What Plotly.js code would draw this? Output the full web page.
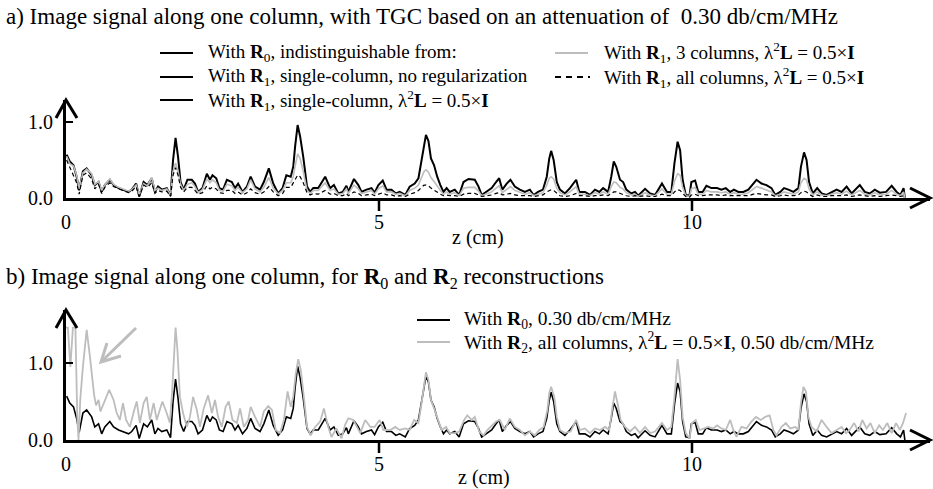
<!DOCTYPE html>
<html>
<head>
<meta charset="utf-8">
<script src="https://cdn.plot.ly/plotly-3.0.1.min.js"></script>
<style>html,body{margin:0;padding:0;background:#fff;}#chart{width:933px;height:489px;}</style>
</head>
<body>
<div id="chart"></div>
<script>
// ---------- data ----------
// depth positions (cm) shared by the panel-a series and the R0 curve
const zA = [
 0.01,0.06,0.12,0.17,0.21,0.27,0.33,0.41,0.46,0.52,
 0.57,0.62,0.70,0.76,0.84,0.92,1.00,1.05,1.12,1.17,
 1.24,1.30,1.37,1.42,1.47,1.53,1.61,1.67,1.71,1.75,
 1.79,1.83,1.88,1.94,2.01,2.06,2.11,2.18,2.25,2.30,
 2.34,2.40,2.45,2.51,2.57,2.65,2.70,2.75,2.82,2.89,
 2.95,3.02,3.10,3.16,3.24,3.31,3.39,3.46,3.52,3.59,
 3.63,3.66,3.70,3.74,3.79,3.85,3.90,3.95,4.03,4.14,
 4.22,4.28,4.35,4.42,4.48,4.51,4.60,4.67,4.72,4.80,
 4.88,4.93,4.99,5.06,5.12,5.20,5.27,5.33,5.42,5.49,
 5.57,5.63,5.68,5.72,5.75,5.79,5.83,5.88,5.93,5.98,
 6.03,6.08,6.13,6.21,6.28,6.35,6.43,6.53,6.59,6.64,
 6.72,6.80,6.87,6.92,6.97,7.04,7.10,7.17,7.25,7.33,
 7.41,7.47,7.54,7.62,7.68,7.72,7.75,7.79,7.84,7.89,
 7.97,8.05,8.15,8.20,8.29,8.37,8.45,8.52,8.58,8.66,
 8.71,8.75,8.79,8.85,8.90,8.95,9.03,9.09,9.14,9.25,
 9.33,9.41,9.52,9.60,9.67,9.72,9.77,9.81,9.85,9.90,
 9.96,9.99,10.05,10.10,10.17,10.23,10.31,10.40,10.47,10.54,
 10.61,10.67,10.74,10.82,10.90,10.98,11.03,11.11,11.19,11.27,
 11.33,11.41,11.47,11.54,11.62,11.70,11.74,11.79,11.83,11.87,
 11.93,12.00,12.07,12.15,12.23,12.31,12.39,12.47,12.55,12.68,
 12.76,12.84,12.92,13.00,13.10,13.19,13.27,13.33,13.38,13.40];

// R0 (identical to R1 single-column curves), 0.30 db/cm/MHz
const r0 = [
 0.57,0.48,0.43,0.28,0.10,0.35,0.39,0.30,0.17,0.21,
 0.08,0.17,0.24,0.17,0.13,0.11,0.08,0.11,0.19,0.02,
 0.21,0.17,0.26,0.08,0.15,0.11,0.13,0.03,0.50,0.79,
 0.54,0.21,0.11,0.24,0.24,0.19,0.08,0.13,0.32,0.24,
 0.30,0.26,0.13,0.11,0.24,0.21,0.13,0.19,0.08,0.15,
 0.28,0.15,0.11,0.21,0.39,0.19,0.06,0.13,0.30,0.28,
 0.41,0.68,0.96,0.81,0.54,0.15,0.08,0.13,0.13,0.28,
 0.13,0.17,0.06,0.08,0.16,0.08,0.25,0.17,0.08,0.11,
 0.13,0.07,0.17,0.23,0.11,0.11,0.06,0.08,0.04,0.15,
 0.19,0.26,0.50,0.72,0.83,0.75,0.52,0.43,0.28,0.17,
 0.08,0.13,0.08,0.11,0.04,0.21,0.25,0.24,0.15,0.04,
 0.08,0.13,0.21,0.26,0.11,0.19,0.24,0.15,0.11,0.08,
 0.11,0.04,0.08,0.11,0.28,0.52,0.62,0.50,0.21,0.11,
 0.06,0.13,0.24,0.08,0.08,0.04,0.11,0.08,0.13,0.08,
 0.28,0.48,0.41,0.24,0.21,0.11,0.06,0.08,0.03,0.12,
 0.06,0.04,0.19,0.08,0.08,0.46,0.74,0.63,0.24,0.04,
 0.03,0.21,0.23,0.08,0.08,0.16,0.13,0.13,0.11,0.13,
 0.08,0.11,0.08,0.08,0.11,0.19,0.24,0.19,0.17,0.13,
 0.04,0.08,0.13,0.11,0.08,0.13,0.41,0.60,0.50,0.21,
 0.06,0.13,0.06,0.04,0.08,0.11,0.08,0.15,0.06,0.17,
 0.08,0.06,0.11,0.07,0.08,0.16,0.08,0.04,0.13,0.00];

// R1, 3 columns
const r1Three = [
 0.55,0.45,0.42,0.30,0.12,0.33,0.38,0.32,0.18,0.22,
 0.10,0.17,0.25,0.18,0.14,0.12,0.09,0.11,0.17,0.05,
 0.19,0.16,0.27,0.10,0.13,0.10,0.12,0.04,0.35,0.46,
 0.35,0.18,0.10,0.18,0.20,0.15,0.07,0.11,0.25,0.20,
 0.24,0.20,0.10,0.09,0.18,0.16,0.10,0.14,0.07,0.12,
 0.24,0.12,0.08,0.14,0.27,0.13,0.05,0.10,0.20,0.20,
 0.28,0.42,0.58,0.52,0.35,0.10,0.06,0.10,0.10,0.20,
 0.10,0.12,0.05,0.06,0.12,0.06,0.17,0.12,0.06,0.08,
 0.10,0.05,0.12,0.16,0.08,0.08,0.05,0.06,0.03,0.10,
 0.13,0.17,0.28,0.35,0.37,0.34,0.27,0.22,0.16,0.10,
 0.05,0.08,0.05,0.07,0.03,0.13,0.14,0.14,0.09,0.03,
 0.05,0.08,0.13,0.16,0.07,0.12,0.15,0.10,0.07,0.05,
 0.07,0.03,0.05,0.07,0.17,0.26,0.28,0.25,0.13,0.07,
 0.04,0.08,0.15,0.05,0.05,0.03,0.07,0.05,0.08,0.05,
 0.15,0.21,0.20,0.14,0.12,0.07,0.04,0.05,0.02,0.07,
 0.04,0.03,0.12,0.05,0.05,0.22,0.32,0.30,0.14,0.03,
 0.02,0.12,0.14,0.05,0.05,0.10,0.08,0.08,0.07,0.08,
 0.05,0.07,0.05,0.05,0.07,0.12,0.15,0.13,0.11,0.08,
 0.03,0.05,0.08,0.07,0.05,0.08,0.20,0.26,0.24,0.12,
 0.04,0.08,0.04,0.03,0.05,0.07,0.05,0.09,0.04,0.10,
 0.05,0.04,0.07,0.04,0.05,0.10,0.05,0.03,0.08,0.00];

// R1, all columns
const r1All = [
 0.50,0.40,0.30,0.20,0.05,0.30,0.33,0.25,0.12,0.18,
 0.06,0.14,0.20,0.15,0.12,0.10,0.07,0.09,0.15,0.02,
 0.17,0.14,0.20,0.06,0.10,0.08,0.09,0.02,0.30,0.40,
 0.30,0.14,0.08,0.14,0.14,0.10,0.05,0.07,0.16,0.12,
 0.14,0.12,0.07,0.06,0.10,0.10,0.06,0.08,0.04,0.07,
 0.12,0.07,0.05,0.08,0.15,0.08,0.03,0.06,0.14,0.14,
 0.20,0.26,0.30,0.28,0.20,0.07,0.04,0.06,0.05,0.10,
 0.05,0.06,0.03,0.03,0.06,0.03,0.08,0.06,0.03,0.04,
 0.05,0.03,0.05,0.07,0.04,0.04,0.02,0.03,0.02,0.05,
 0.07,0.10,0.14,0.17,0.17,0.16,0.13,0.10,0.07,0.05,
 0.03,0.04,0.03,0.03,0.02,0.05,0.06,0.06,0.04,0.02,
 0.03,0.04,0.06,0.07,0.04,0.05,0.06,0.04,0.03,0.03,
 0.03,0.02,0.03,0.04,0.08,0.10,0.11,0.10,0.06,0.03,
 0.02,0.03,0.06,0.03,0.03,0.02,0.03,0.03,0.04,0.03,
 0.06,0.08,0.08,0.06,0.05,0.03,0.02,0.03,0.02,0.03,
 0.02,0.02,0.05,0.03,0.03,0.08,0.11,0.10,0.06,0.02,
 0.01,0.04,0.05,0.03,0.03,0.04,0.04,0.04,0.03,0.04,
 0.03,0.03,0.03,0.03,0.03,0.05,0.06,0.05,0.04,0.04,
 0.02,0.03,0.04,0.03,0.03,0.04,0.07,0.09,0.08,0.05,
 0.02,0.04,0.02,0.02,0.03,0.03,0.03,0.04,0.02,0.04,
 0.03,0.02,0.03,0.02,0.03,0.04,0.03,0.02,0.03,0.00];

// R2, all columns, 0.50 db/cm/MHz (panel b)
const zB = [
 0.00,0.03,0.07,0.11,0.15,0.18,0.20,0.23,0.27,0.33,
 0.38,0.42,0.45,0.48,0.52,0.55,0.62,0.69,0.76,0.81,
 0.86,0.91,0.96,1.02,1.09,1.13,1.18,1.24,1.29,1.34,
 1.40,1.45,1.49,1.54,1.60,1.66,1.70,1.75,1.78,1.82,
 1.87,1.93,1.98,2.03,2.09,2.14,2.20,2.27,2.33,2.38,
 2.43,2.49,2.55,2.60,2.66,2.73,2.78,2.84,2.91,2.95,
 3.02,3.10,3.16,3.23,3.29,3.35,3.42,3.48,3.54,3.59,
 3.63,3.67,3.71,3.75,3.80,3.85,3.91,3.98,4.06,4.12,
 4.19,4.24,4.32,4.40,4.46,4.51,4.59,4.64,4.70,4.78,
 4.86,4.93,5.01,5.07,5.18,5.26,5.33,5.42,5.49,5.56,
 5.63,5.68,5.72,5.75,5.79,5.83,5.88,5.95,6.00,6.07,
 6.13,6.21,6.28,6.36,6.41,6.48,6.53,6.60,6.67,6.73,
 6.80,6.87,6.93,7.01,7.09,7.17,7.25,7.33,7.41,7.49,
 7.56,7.63,7.69,7.72,7.75,7.80,7.84,7.89,7.97,8.06,
 8.15,8.21,8.29,8.37,8.45,8.53,8.61,8.68,8.73,8.77,
 8.81,8.86,8.93,9.01,9.09,9.17,9.25,9.33,9.41,9.52,
 9.60,9.67,9.72,9.77,9.81,9.85,9.90,9.96,10.00,10.06,
 10.12,10.19,10.26,10.34,10.40,10.47,10.54,10.61,10.66,10.71,
 10.79,10.87,10.95,11.02,11.10,11.17,11.24,11.30,11.35,11.43,
 11.50,11.57,11.65,11.70,11.74,11.78,11.82,11.86,11.91,11.99,
 12.07,12.15,12.23,12.31,12.39,12.46,12.52,12.59,12.66,12.72,
 12.79,12.85,12.92,12.99,13.05,13.12,13.19,13.26,13.32,13.37,13.42];
const r2 = [
 1.46,1.46,0.95,1.46,1.46,0.30,0.00,0.55,0.95,1.43,
 1.10,0.80,0.58,0.45,0.52,0.37,0.52,0.65,0.52,0.35,
 0.26,0.48,0.26,0.17,0.39,0.50,0.22,0.48,0.56,0.26,
 0.48,0.26,0.37,0.50,0.37,0.22,0.69,1.46,1.17,0.56,
 0.35,0.17,0.30,0.56,0.39,0.17,0.41,0.58,0.35,0.52,
 0.30,0.17,0.43,0.50,0.26,0.22,0.41,0.17,0.26,0.43,
 0.30,0.17,0.37,0.44,0.39,0.13,0.09,0.26,0.63,0.43,
 0.56,0.86,1.05,0.91,0.56,0.17,0.06,0.17,0.24,0.41,
 0.17,0.04,0.15,0.02,0.20,0.28,0.26,0.19,0.09,0.26,
 0.17,0.17,0.26,0.13,0.13,0.17,0.13,0.15,0.13,0.26,
 0.22,0.48,0.74,0.88,0.78,0.52,0.41,0.24,0.13,0.17,
 0.09,0.09,0.11,0.26,0.32,0.26,0.30,0.11,0.06,0.13,
 0.19,0.24,0.26,0.13,0.28,0.17,0.13,0.06,0.11,0.06,
 0.13,0.17,0.39,0.61,0.69,0.56,0.30,0.13,0.09,0.11,
 0.26,0.13,0.15,0.09,0.15,0.13,0.17,0.13,0.43,0.63,
 0.48,0.26,0.17,0.11,0.17,0.09,0.17,0.09,0.11,0.22,
 0.13,0.17,0.56,1.05,0.78,0.30,0.09,0.02,0.22,0.26,
 0.13,0.15,0.17,0.15,0.19,0.15,0.13,0.26,0.13,0.04,
 0.17,0.15,0.24,0.30,0.26,0.30,0.32,0.13,0.06,0.17,
 0.22,0.15,0.17,0.13,0.48,0.69,0.63,0.30,0.17,0.11,
 0.26,0.17,0.09,0.13,0.17,0.09,0.13,0.22,0.11,0.26,
 0.15,0.22,0.09,0.19,0.13,0.22,0.09,0.22,0.13,0.22,0.35];

const xTickVals = [0, 5, 10];
const xTickText = ['0', '5', '10'];
const yTickVals = [0, 1];
const yTickText = ['0.0', '1.0'];

const titleA = 'a) Image signal along one column, with TGC based on an attenuation of&nbsp; 0.30 db/cm/MHz';
const titleB = 'b) Image signal along one column, for <b>R</b><sub>0</sub> and <b>R</b><sub>2</sub> reconstructions';
const lam = 'λ<sup>2</sup><b>L</b> = 0.5×<b>I</b>';
const legA1 = ['With <b>R</b><sub>0</sub>, indistinguishable from:',
               'With <b>R</b><sub>1</sub>, single-column, no regularization',
               'With <b>R</b><sub>1</sub>, single-column, ' + lam];
const legA2 = ['With <b>R</b><sub>1</sub>, 3 columns, ' + lam,
               'With <b>R</b><sub>1</sub>, all columns, ' + lam];
const legB = ['With <b>R</b><sub>0</sub>, 0.30 db/cm/MHz',
              'With <b>R</b><sub>2</sub>, all columns, ' + lam + ', 0.50 db/cm/MHz'];

// ---------- layout helpers ----------
const W = 933, H = 489;
const px = x => x / W;
const py = y => 1 - y / H;
const FONT = 'Liberation Serif';
const GREY = '#bdbdbd';

function path(pts) {
  return pts.map((p, i) => (i ? 'L' : 'M') + px(p[0]).toFixed(5) + ',' + py(p[1]).toFixed(5)).join(' ');
}
function seg(x0, y0, x1, y1, color, width, dash) {
  return {type: 'line', xref: 'paper', yref: 'paper', x0: px(x0), y0: py(y0), x1: px(x1), y1: py(y1),
          line: {color: color, width: width, dash: dash || 'solid'}};
}
function pathShape(pts, color, width) {
  return {type: 'path', xref: 'paper', yref: 'paper', path: path(pts), line: {color: color, width: width}};
}

const axisX0 = 66, axisX1 = 930;
const baseA = 198, topA = 100, baseB = 440, topB = 310;
const pxPerCm = 62.6, pxPerUnitA = 76, pxPerUnitB = 77;

function xAxis(anchor) {
  return {domain: [px(axisX0), px(axisX1)], range: [0, (axisX1 - axisX0) / pxPerCm], anchor: anchor,
          showline: true, linewidth: 3, linecolor: '#000', showgrid: false, zeroline: false,
          tickvals: xTickVals, ticktext: xTickText, ticks: '', ticklabelstandoff: 4,
          tickfont: {family: FONT, size: 20, color: '#000'}, fixedrange: true};
}
function yAxis(anchor, base, top, ppu) {
  return {domain: [py(base), py(top)], range: [0, (base - top) / ppu], anchor: anchor,
          showline: true, linewidth: 3, linecolor: '#000', showgrid: false, zeroline: false,
          tickvals: yTickVals, ticktext: yTickText, ticks: 'inside', ticklen: 7, tickwidth: 2, tickcolor: '#000',
          ticklabelstandoff: 6, tickfont: {family: FONT, size: 20, color: '#000'}, fixedrange: true};
}

const shapes = [
  // axis arrowheads
  pathShape([[56, topA + 18], [66, topA], [77, topA + 18]], '#000', 3),
  pathShape([[910, baseA - 10], [930, baseA], [910, baseA + 10]], '#000', 3),
  pathShape([[56, topB + 18], [66, topB], [77, topB + 18]], '#000', 3),
  pathShape([[910, baseB - 10], [930, baseB], [910, baseB + 10]], '#000', 3),
  // grey pointer arrow in panel b
  seg(136, 328, 101, 362, GREY, 3),
  pathShape([[107, 343], [101, 362], [121, 356]], GREY, 3),
  // legend samples, panel a
  seg(160, 53, 193, 53, '#000', 2),
  seg(160, 77, 193, 77, '#000', 2),
  seg(160, 100, 193, 100, '#000', 2),
  seg(555, 53, 588, 53, GREY, 2),
  seg(555, 77, 590, 77, '#000', 2, '6px,5px'),
  // legend samples, panel b
  seg(417, 320, 450, 320, '#000', 2),
  seg(417, 342, 450, 342, GREY, 2)
];
// x tick marks below the axis (not at 0)
xTickVals.filter(v => v > 0).forEach(v => {
  shapes.push({type: 'line', xref: 'x', yref: 'paper', x0: v, x1: v, y0: py(baseA + 1), y1: py(baseA + 13), line: {color: '#000', width: 2.5}});
  shapes.push({type: 'line', xref: 'x2', yref: 'paper', x0: v, x1: v, y0: py(baseB + 1), y1: py(baseB + 13), line: {color: '#000', width: 2.5}});
});

function txt(text, x, y, size, anchor) {
  return {text: text, xref: 'paper', yref: 'paper', x: px(x), y: py(y), xanchor: anchor || 'left', yanchor: 'middle',
          showarrow: false, font: {family: FONT, size: size, color: '#000'}};
}
const annotations = [
  txt(titleA, 4, 17, 23),
  txt(titleB, 4, 278, 23),
  txt(legA1[0], 206, 53, 19), txt(legA1[1], 206, 77, 19), txt(legA1[2], 206, 100, 19),
  txt(legA2[0], 602, 53, 19), txt(legA2[1], 602, 77, 19),
  txt(legB[0], 462, 320, 19.5), txt(legB[1], 462, 342, 19.5),
  txt('z (cm)', 478, 237, 20, 'center'),
  txt('z (cm)', 484, 477, 20, 'center')
];

const traces = [
  {x: zA, y: r0, xaxis: 'x', yaxis: 'y', mode: 'lines', line: {color: '#000', width: 2}, name: 'R0'},
  {x: zA, y: r1Three, xaxis: 'x', yaxis: 'y', mode: 'lines', line: {color: GREY, width: 1.6}, name: 'R1 3 columns'},
  {x: zA, y: r1All, xaxis: 'x', yaxis: 'y', mode: 'lines', line: {color: '#000', width: 1.2, dash: '4px,3px'}, name: 'R1 all columns'},
  {x: zA, y: r0, xaxis: 'x2', yaxis: 'y2', mode: 'lines', line: {color: '#000', width: 1.6}, name: 'R0 0.30'},
  {x: zB, y: r2, xaxis: 'x2', yaxis: 'y2', mode: 'lines', line: {color: GREY, width: 1.8}, name: 'R2 0.50'}
];

const layout = {
  width: W, height: H, margin: {l: 0, r: 0, t: 0, b: 0, pad: 0},
  paper_bgcolor: '#fff', plot_bgcolor: 'rgba(0,0,0,0)', showlegend: false,
  font: {family: FONT, size: 20, color: '#000'},
  xaxis: xAxis('y'), yaxis: yAxis('x', baseA, topA, pxPerUnitA),
  xaxis2: xAxis('y2'), yaxis2: yAxis('x2', baseB, topB, pxPerUnitB),
  shapes: shapes, annotations: annotations
};

Plotly.newPlot('chart', traces, layout, {displayModeBar: false});
</script>
</body>
</html>
